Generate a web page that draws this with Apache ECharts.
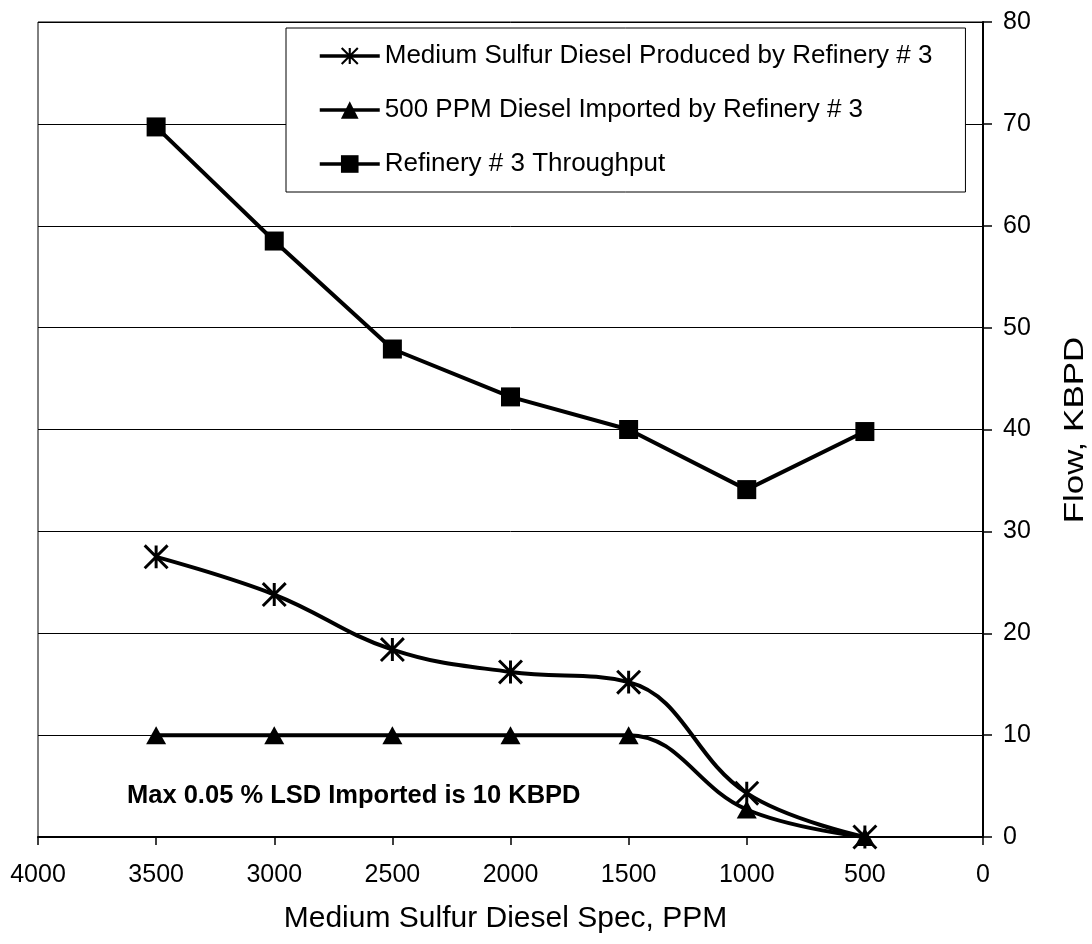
<!DOCTYPE html>
<html>
<head>
<meta charset="utf-8">
<script src="https://cdn.jsdelivr.net/npm/echarts@6/dist/echarts.min.js"></script>
<style>
  html, body { margin: 0; padding: 0; background: #ffffff; }
  #chart { width: 1092px; height: 944px; }
</style>
</head>
<body>
<div id="chart"></div>
<script>
// Medium sulfur diesel spec (PPM) on the x axis
const specPPM = [3500, 3000, 2500, 2000, 1500, 1000, 500];

// Flows in KBPD
const mediumSulfurProduced = [27.5, 23.8, 18.4, 16.2, 15.2, 4.3, 0];
const diesel500Imported    = [10, 10, 10, 10, 10, 2.7, 0];
const refineryThroughput   = [69.7, 58.5, 47.9, 43.2, 40.0, 34.1, 39.8];

const seriesNames = [
  'Medium Sulfur Diesel Produced by Refinery # 3',
  '500 PPM Diesel Imported by Refinery # 3',
  'Refinery # 3 Throughput'
];

// Axis ranges
const xAxisMin = 0, xAxisMax = 4000, xAxisStep = 500;
const yAxisMin = 0, yAxisMax = 80, yAxisStep = 10;

const xAxisTitle = 'Medium Sulfur Diesel Spec, PPM';
const yAxisTitle = 'Flow, KBPD';
const noteText = 'Max 0.05 % LSD Imported is 10 KBPD';

const FONT = '"Liberation Sans", Arial, Helvetica, sans-serif';

// Six-armed asterisk: a vertical bar plus an X
const asteriskPath = 'path://' +
  'M-1.3,-10L1.3,-10L1.3,10L-1.3,10Z' +
  'M-9.08,-10.92L10.92,9.08L9.08,10.92L-10.92,-9.08Z' +
  'M10.92,-9.08L-9.08,10.92L-10.92,9.08L9.08,-10.92Z';

const pairs = vals => specPPM.map((x, i) => [x, vals[i]]);

const chart = echarts.init(document.getElementById('chart'), null, { renderer: 'canvas' });

chart.setOption({
  animation: false,
  backgroundColor: '#ffffff',
  textStyle: { fontFamily: FONT, color: '#000' },
  grid: {
    left: 38, right: 109, top: 22, bottom: 107,
    show: true, borderColor: '#000', borderWidth: 1, backgroundColor: 'transparent'
  },
  legend: {
    orient: 'vertical',
    left: 286, top: 28,
    padding: [15, 33, 15, 32],
    itemGap: 28,
    itemWidth: 60,
    itemHeight: 22,
    backgroundColor: '#ffffff',
    borderColor: '#000',
    borderWidth: 1,
    borderRadius: 0,
    selectedMode: false,
    lineStyle: { width: 3.5, color: '#000' },
    textStyle: { fontFamily: FONT, fontSize: 26, color: '#000', lineHeight: 26 },
    data: seriesNames
  },
  xAxis: {
    type: 'value',
    inverse: true,
    min: xAxisMin, max: xAxisMax, interval: xAxisStep,
    name: xAxisTitle,
    nameLocation: 'middle',
    nameGap: 67,
    nameTextStyle: { fontFamily: FONT, fontSize: 30, color: '#000', padding: [0, 10, 0, 0] },
    axisLine: { show: true, lineStyle: { color: '#000', width: 2 } },
    axisTick: { show: true, inside: false, length: 8, lineStyle: { color: '#000', width: 1.5 } },
    axisLabel: {
      fontFamily: FONT, fontSize: 25, color: '#000', margin: 26,
      formatter: v => String(v)
    },
    splitLine: { show: false }
  },
  yAxis: {
    type: 'value',
    position: 'right',
    min: yAxisMin, max: yAxisMax, interval: yAxisStep,
    axisLine: { show: true, lineStyle: { color: '#000', width: 2 } },
    axisTick: { show: true, inside: false, length: 9, lineStyle: { color: '#000', width: 1.5 } },
    axisLabel: { fontFamily: FONT, fontSize: 25, color: '#000', margin: 20 },
    splitLine: { show: true, lineStyle: { color: '#000', width: 1 } }
  },
  graphic: [
    {
      // right-hand axis title, reading bottom to top
      type: 'text',
      x: 1075,
      y: 430,
      rotation: Math.PI / 2,
      scaleX: 1.25,
      style: {
        text: yAxisTitle,
        font: '28px ' + FONT,
        fill: '#000',
        align: 'center',
        verticalAlign: 'middle'
      }
    },
    {
      type: 'text',
      left: 127,
      top: 783,
      style: {
        text: noteText,
        font: 'bold 25.5px ' + FONT,
        fill: '#000'
      }
    }
  ],
  series: [
    {
      name: seriesNames[0],
      type: 'line',
      data: pairs(mediumSulfurProduced),
      smooth: 0.4,
      symbol: asteriskPath,
      symbolSize: 25,
      lineStyle: { color: '#000', width: 4 },
      itemStyle: { color: '#000' },
      z: 3
    },
    {
      name: seriesNames[1],
      type: 'line',
      data: pairs(diesel500Imported),
      smooth: 0.4,
      symbol: 'triangle',
      symbolSize: [20, 18],
      lineStyle: { color: '#000', width: 4 },
      itemStyle: { color: '#000' },
      z: 4
    },
    {
      name: seriesNames[2],
      type: 'line',
      data: pairs(refineryThroughput),
      smooth: false,
      symbol: 'rect',
      symbolSize: 19,
      lineStyle: { color: '#000', width: 4 },
      itemStyle: { color: '#000' },
      z: 3
    }
  ]
});
</script>
</body>
</html>
